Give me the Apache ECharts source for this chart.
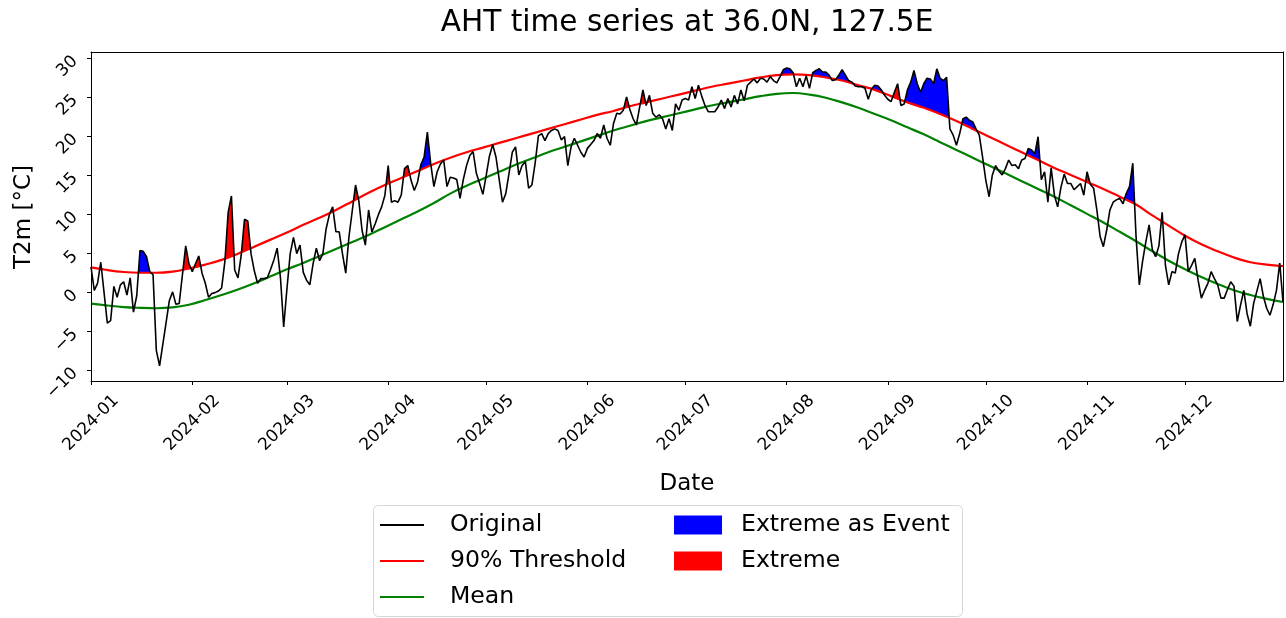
<!DOCTYPE html>
<html>
<head>
<meta charset="utf-8">
<script src="https://cdn.jsdelivr.net/npm/echarts@6/dist/echarts.min.js"></script>
<style>
  html, body { margin: 0; padding: 0; background: #fff; }
  #chart { width: 1286px; height: 618px; }
</style>
</head>
<body>
<div id="chart"></div>
<script>
// Daily 2 m temperature (°C) for 2024 at 36.0N, 127.5E, index 0 = 1 Jan
const original = [
  3.3, 0.3, 1.2, 3.9, 0.0, -3.9, -3.6, 0.8, -0.6, 1.0,
  1.4, -0.3, 1.9, -2.5, -0.4, 5.4, 5.3, 4.6, 2.7, 2.3,
  -7.4, -9.4, -6.6, -3.8, -1.0, 0.1, -1.5, -1.4, 2.3, 6.0,
  3.7, 2.7, 3.7, 4.7, 2.5, 1.2, -0.6, -0.1, 0.0, 0.2,
  0.6, 4.0, 10.3, 12.4, 2.9, 1.9, 4.8, 9.4, 9.2, 5.0,
  2.8, 1.2, 1.8, 1.8, 1.9, 3.0, 4.2, 5.7, 2.0, -4.4,
  0.5, 5.0, 7.1, 5.0, 6.1, 2.6, 1.6, 1.0, 3.7, 5.7,
  4.1, 5.0, 8.2, 10.0, 11.0, 7.8, 7.8, 5.0, 2.5, 7.2,
  10.5, 13.8, 11.8, 8.0, 6.1, 10.6, 7.8, 8.8, 10.0, 11.0,
  12.5, 16.3, 11.6, 11.8, 11.6, 12.5, 15.9, 16.3, 14.4, 13.1,
  14.2, 16.4, 17.4, 20.6, 16.6, 13.6, 15.5, 16.5, 17.0, 13.6,
  14.8, 14.7, 14.5, 12.1, 14.5, 16.3, 17.6, 18.1, 15.3, 14.0,
  12.6, 15.0, 17.5, 19.0, 17.4, 14.5, 11.6, 12.7, 15.3, 18.0,
  18.7, 15.1, 16.3, 16.8, 13.4, 13.8, 16.6, 20.1, 20.4, 19.5,
  20.4, 20.8, 21.0, 20.8, 19.6, 20.0, 16.3, 18.7, 19.8, 18.9,
  18.0, 17.4, 18.5, 19.0, 19.5, 20.4, 19.8, 21.5, 19.8, 18.9,
  21.7, 23.0, 22.9, 23.4, 25.1, 23.5, 22.3, 21.5, 23.8, 26.0,
  24.0, 25.3, 23.0, 22.5, 22.8, 22.3, 21.0, 22.3, 20.8, 24.2,
  23.4, 24.7, 24.9, 24.7, 26.4, 24.9, 26.6, 25.2, 24.0, 23.2,
  23.2, 23.2, 23.8, 24.7, 23.6, 24.9, 23.8, 25.3, 24.2, 26.0,
  24.6, 26.6, 27.0, 27.4, 26.9, 27.5, 27.4, 27.0, 27.7, 27.2,
  26.9, 27.7, 28.6, 28.8, 28.7, 28.2, 26.4, 27.5, 26.4, 27.8,
  26.2, 28.2, 28.5, 28.7, 28.3, 28.3, 27.9, 27.2, 27.3, 27.9,
  28.6, 27.9, 27.2, 27.0, 26.5, 26.4, 26.4, 26.2, 24.8, 26.1,
  26.6, 26.5, 26.0, 25.3, 24.8, 24.5, 25.7, 26.8, 24.0, 24.2,
  26.0, 27.0, 28.5, 26.8, 25.7, 26.8, 27.5, 27.4, 26.8, 28.7,
  27.5, 27.2, 27.6, 21.0, 20.2, 18.9, 20.4, 22.3, 22.5, 22.1,
  21.9, 21.0, 20.2, 17.4, 14.4, 12.3, 15.1, 16.3, 15.6, 15.1,
  15.9, 17.0, 16.3, 16.4, 15.9, 17.0, 17.2, 18.5, 18.3, 17.8,
  20.0, 14.5, 15.5, 11.6, 16.0, 12.5, 11.0, 13.5, 15.2, 14.0,
  14.0, 13.2, 13.6, 14.0, 12.5, 15.5, 13.9, 13.4, 10.6, 7.2,
  5.9, 8.0, 10.6, 11.6, 11.9, 12.1, 11.4, 12.7, 13.6, 16.6,
  7.2, 1.0, 4.0, 6.5, 8.7, 5.5, 4.6, 6.0, 10.3, 3.5,
  1.0, 2.7, 2.5, 5.0, 6.5, 7.4, 2.7, 3.5, 4.4, 1.6,
  -0.7, 0.3, 1.2, 2.7, 1.8, 1.0, -0.7, -0.7, 0.4, 1.4,
  0.8, -3.7, -1.6, 0.3, -2.7, -4.3, -1.4, 0.2, 1.8, -0.5,
  -2.0, -2.9, -1.5, 0.3, 3.8, -1.2
];

// Climatology sampled every 5 days (day of year, 0 = 1 Jan)
const climDays = [
  0, 5, 10, 15, 20, 25, 30, 35, 40, 45, 50, 55, 60, 65, 70, 75, 80, 85, 90, 95,
  100, 105, 110, 115, 120, 125, 130, 135, 140, 145, 150, 155, 160, 165, 170, 175, 180, 185, 190, 195,
  200, 205, 210, 215, 220, 225, 230, 235, 240, 245, 250, 255, 260, 265, 270, 275, 280, 285, 290, 295,
  300, 305, 310, 315, 320, 325, 330, 335, 340, 345, 350, 355, 360, 365
];
const threshold90 = [
  3.25, 2.9, 2.65, 2.55, 2.55, 2.7, 3.1, 3.6, 4.2, 5.0, 5.9, 6.8, 7.7, 8.7, 9.6, 10.6, 11.7, 12.8, 13.8, 14.7,
  15.6, 16.5, 17.3, 18.0, 18.6, 19.2, 19.8, 20.4, 21.0, 21.6, 22.2, 22.8, 23.3, 23.9, 24.4, 24.9, 25.4, 25.9, 26.4, 26.8,
  27.2, 27.6, 27.9, 28.0, 27.9, 27.6, 27.2, 26.6, 26.0, 25.2, 24.4, 23.7, 22.9, 22.0, 21.0, 20.0, 19.0, 18.0, 17.0, 16.0,
  15.1, 14.2, 13.3, 12.3, 11.3, 9.9, 8.6, 7.3, 6.2, 5.3, 4.5, 3.9, 3.6, 3.4
];
const meanClim = [
  -1.4, -1.65, -1.85, -1.95, -2.0, -1.9, -1.55, -0.95, -0.3, 0.4, 1.2, 2.1, 3.0, 3.8, 4.7, 5.6, 6.5, 7.4, 8.4, 9.4,
  10.4, 11.5, 12.7, 13.7, 14.6, 15.5, 16.4, 17.2, 18.0, 18.7, 19.4, 20.1, 20.8, 21.4, 22.0, 22.5, 23.0, 23.5, 24.0, 24.4,
  24.8, 25.2, 25.5, 25.6, 25.4, 25.0, 24.4, 23.7, 22.9, 22.1, 21.2, 20.3, 19.3, 18.3, 17.3, 16.3, 15.3, 14.3, 13.3, 12.3,
  11.2, 10.1, 9.0, 7.8, 6.6, 5.3, 4.1, 3.0, 2.0, 1.1, 0.3, -0.3, -0.8, -1.2
];

// Runs of days above the 90% threshold [first, last]
const eventPeriods = [
  [15, 18], [101, 104], [212, 215], [221, 226], [229, 233],
  [240, 242], [250, 262], [267, 271], [287, 290], [317, 319]
];
const extremePeriods = [
  [29, 30], [32, 33], [42, 43], [47, 48], [81, 81], [91, 91], [96, 97],
  [164, 164], [169, 169], [171, 171], [184, 184], [186, 186],
  [246, 247], [305, 305], [328, 328]
];

const monthLabels = ['2024-01', '2024-02', '2024-03', '2024-04', '2024-05', '2024-06',
                     '2024-07', '2024-08', '2024-09', '2024-10', '2024-11', '2024-12'];
const yTicks = [-10, -5, 0, 5, 10, 15, 20, 25, 30];

const FONT = 'DejaVu Sans';
const DAY_MS = 86400000;
const monthStarts = monthLabels.map((_, m) => (Date.UTC(2024, m, 1) - Date.UTC(2024, 0, 1)) / DAY_MS);

// Values of the daily series inside the runs (plus the neighbouring day on each side,
// so the shaded area starts where the curve crosses the threshold). Everything below
// the threshold is hidden by the white area under the threshold curve.
function runData(periods) {
  const keep = new Array(original.length).fill(false);
  periods.forEach(([a, b]) => {
    for (let d = Math.max(0, a - 1); d <= Math.min(original.length - 1, b + 1); d++) keep[d] = true;
  });
  return original.map((v, d) => [d, keep[d] ? v : '-']);
}

const chart = echarts.init(document.getElementById('chart'), null, { renderer: 'canvas' });

const axisLineStyle = { color: '#000', width: 1 };
const fmtNum = v => (v < 0 ? '\u2212' + Math.abs(v) : String(v));

chart.setOption({
  animation: false,
  backgroundColor: '#fff',
  grid: { left: 91, right: 3, top: 52, bottom: 237, containLabel: false },
  xAxis: [
    {
      type: 'value', min: 0, max: 365, z: 10,
      axisLine: { show: true, onZero: false, lineStyle: axisLineStyle },
      axisTick: { show: true, customValues: monthStarts, length: 4, lineStyle: axisLineStyle },
      axisLabel: {
        customValues: monthStarts,
        formatter: v => monthLabels[monthStarts.indexOf(v)],
        rotate: 45, align: 'center', verticalAlign: 'middle', margin: 42,
        fontFamily: FONT, fontSize: 17, color: '#000'
      },
      splitLine: { show: false }
    },
    {
      type: 'value', position: 'top', min: 0, max: 365, z: 10,
      axisLine: { show: true, onZero: false, lineStyle: axisLineStyle },
      axisTick: { show: false }, axisLabel: { show: false }, splitLine: { show: false }
    }
  ],
  yAxis: [
    {
      type: 'value', min: -11.33, max: 30.86, z: 10,
      axisLine: { show: true, onZero: false, lineStyle: axisLineStyle },
      axisTick: { show: true, customValues: yTicks, length: 4, lineStyle: axisLineStyle },
      axisLabel: {
        customValues: yTicks, formatter: fmtNum,
        rotate: 45, margin: 16,
        fontFamily: FONT, fontSize: 17, color: '#000'
      },
      splitLine: { show: false }
    },
    {
      type: 'value', position: 'right', min: -11.33, max: 30.86, z: 10,
      axisLine: { show: true, onZero: false, lineStyle: axisLineStyle },
      axisTick: { show: false }, axisLabel: { show: false }, splitLine: { show: false }
    }
  ],
  legend: [
    {
      data: [{ name: 'Original', icon: 'rect' }, { name: '90% Threshold', icon: 'rect' }, { name: 'Mean', icon: 'rect' }],
      orient: 'vertical', left: 380, top: 512, padding: 0, z: 5,
      itemWidth: 44, itemHeight: 2, itemGap: 10, selectedMode: false,
      textStyle: { fontFamily: FONT, fontSize: 23.6, color: '#000', lineHeight: 26, padding: [0, 0, 0, 21] }
    },
    {
      data: [{ name: 'Extreme as Event', icon: 'rect' }, { name: 'Extreme', icon: 'rect' }],
      orient: 'vertical', left: 674, top: 512, padding: 0, z: 5,
      itemWidth: 48, itemHeight: 19, itemGap: 10, selectedMode: false,
      textStyle: { fontFamily: FONT, fontSize: 23.6, color: '#000', lineHeight: 26, padding: [0, 0, 0, 14] }
    }
  ],
  graphic: [
    {
      type: 'text', x: 687, y: 23, z: 5,
      style: { text: 'AHT time series at 36.0N, 127.5E', font: '29.6px "DejaVu Sans"', fill: '#000',
               textAlign: 'center', textVerticalAlign: 'middle' }
    },
    {
      type: 'text', x: 24, y: 217, rotation: Math.PI / 2, z: 5,
      style: { text: 'T2m [°C]', font: '23px "DejaVu Sans"', fill: '#000',
               textAlign: 'center', textVerticalAlign: 'middle' }
    },
    {
      type: 'text', x: 687, y: 484, z: 5,
      style: { text: 'Date', font: '23px "DejaVu Sans"', fill: '#000',
               textAlign: 'center', textVerticalAlign: 'middle' }
    },
    {
      type: 'rect', z: 0,
      shape: { x: 373.5, y: 505.5, width: 589, height: 111, r: 5 },
      style: { fill: '#fff', stroke: '#d6d6d6', lineWidth: 1 }
    }
  ],
  series: [
    {
      name: 'Extreme as Event', type: 'line', z: 1,
      data: runData(eventPeriods),
      showSymbol: false, connectNulls: false,
      lineStyle: { width: 0 },
      itemStyle: { color: '#0000ff' },
      areaStyle: { color: '#0000ff', opacity: 1, origin: 'start' }
    },
    {
      name: 'Extreme', type: 'line', z: 1,
      data: runData(extremePeriods),
      showSymbol: false, connectNulls: false,
      lineStyle: { width: 0 },
      itemStyle: { color: '#ff0000' },
      areaStyle: { color: '#ff0000', opacity: 1, origin: 'start' }
    },
    {
      name: '90% Threshold', type: 'line', z: 2,
      data: climDays.map((d, i) => [d, threshold90[i]]),
      smooth: 0.4, showSymbol: false,
      lineStyle: { color: '#ff0000', width: 2.2 },
      itemStyle: { color: '#ff0000' },
      areaStyle: { color: '#ffffff', opacity: 1, origin: 'start' }
    },
    {
      name: 'Mean', type: 'line', z: 3,
      data: climDays.map((d, i) => [d, meanClim[i]]),
      smooth: 0.4, showSymbol: false,
      lineStyle: { color: '#008000', width: 2.2 },
      itemStyle: { color: '#008000' }
    },
    {
      name: 'Original', type: 'line', z: 4,
      data: original.map((v, d) => [d, v]),
      showSymbol: false,
      lineStyle: { color: '#000000', width: 1.6 },
      itemStyle: { color: '#000000' }
    }
  ]
});
</script>
</body>
</html>
